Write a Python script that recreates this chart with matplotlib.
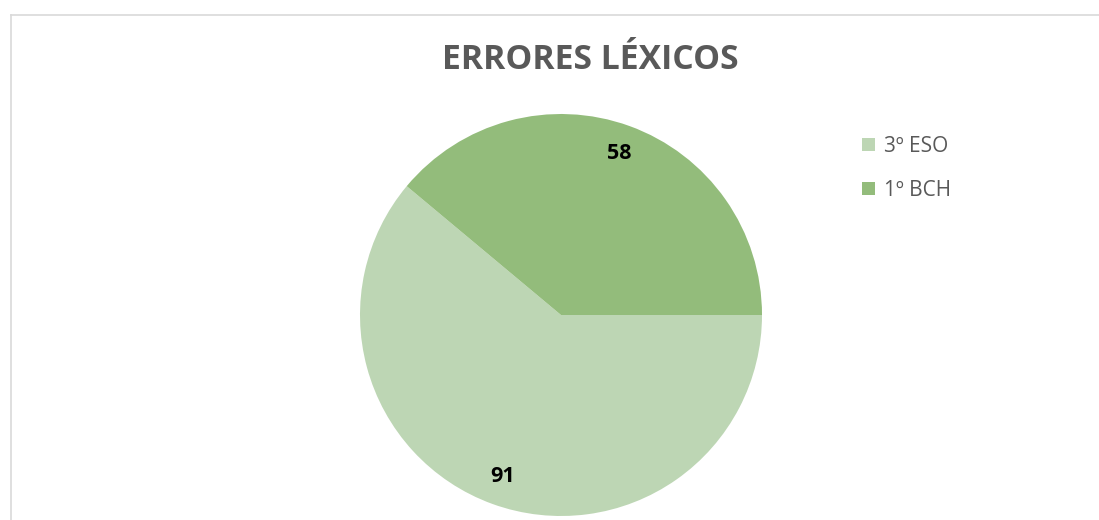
import matplotlib
matplotlib.use("Agg")
import matplotlib.pyplot as plt
from matplotlib.lines import Line2D

categories = ["3º ESO", "1º BCH"]
values = [91, 58]
colors = ["#BDD6B4", "#93BC7B"]
title = "ERRORES LÉXICOS"

W, H = 1099, 520
fig = plt.figure(figsize=(W / 100, H / 100), dpi=100)
fig.patch.set_facecolor("white")

# chart border (left and top visible)
fig.add_artist(Line2D([10.5 / W, 10.5 / W], [0, 1 - 14.5 / H], transform=fig.transFigure,
                      color="#D9D9D9", lw=1.2))
fig.add_artist(Line2D([10.5 / W, 1], [1 - 14.5 / H, 1 - 14.5 / H], transform=fig.transFigure,
                      color="#D9D9D9", lw=1.2))

cx, cy, r = 561, 315, 201
ax = fig.add_axes([(cx - r) / W, (H - cy - r) / H, 2 * r / W, 2 * r / H])
wedges, texts = ax.pie(values, colors=colors, startangle=0, counterclock=False,
                       labels=[str(v) for v in values], labeldistance=0.855,
                       wedgeprops=dict(linewidth=0))
for t in texts:
    t.set_fontsize(15.5)
    t.set_fontweight("bold")
    t.set_color("black")
    t.set_fontfamily("Open Sans")
    t.set_ha("center")
    t.set_va("center")
ax.set_xlim(-1, 1)
ax.set_ylim(-1, 1)
ax.set_aspect("equal")
ax.axis("off")

fig.text(590 / W, 1 - 60 / H, title, ha="center", va="center", fontsize=24.3,
         fontweight="bold", color="#595959", family="Open Sans")

leg = fig.legend(wedges, categories, loc="upper left", bbox_to_anchor=(843 / W, 1 - 117 / H),
                 frameon=False, prop={"family": "Open Sans", "size": 15},
                 handlelength=0.62, handleheight=0.62, handletextpad=0.45, labelspacing=1.1)
for t in leg.get_texts():
    t.set_color("#595959")

fig.savefig("out.png", dpi=100, facecolor="white")
